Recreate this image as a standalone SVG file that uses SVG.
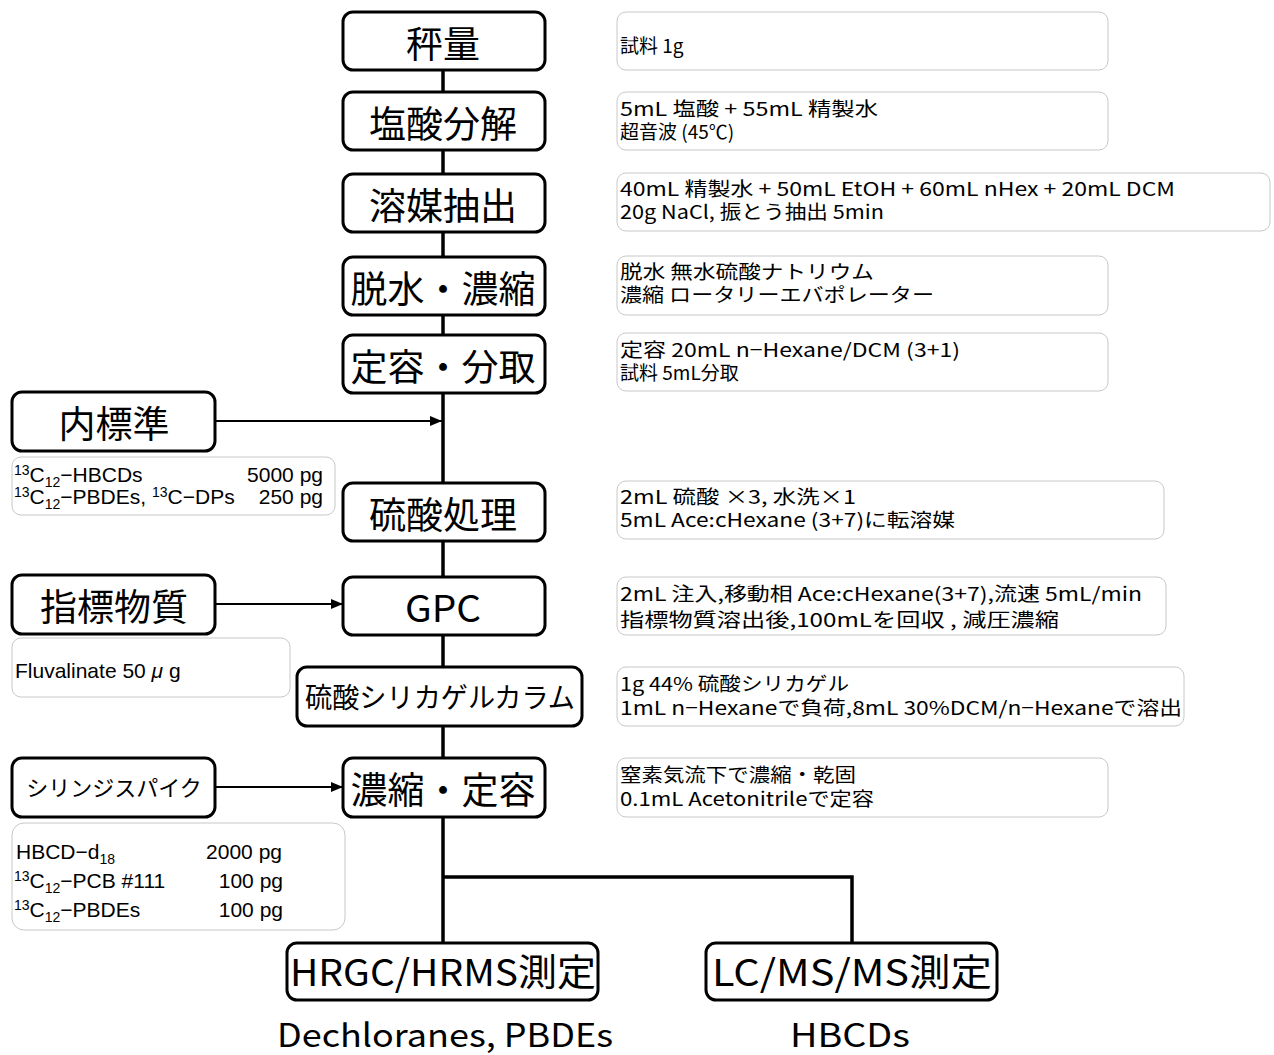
<svg xmlns="http://www.w3.org/2000/svg" width="1274" height="1055" viewBox="0 0 1274 1055">
<style>
.main{fill:#fff;stroke:#000;stroke-width:3}
.note{fill:#fff;stroke:#c8c8c8;stroke-width:1}
.t{font-family:"Noto Sans CJK JP","Liberation Sans",sans-serif;fill:#000}
.big{font-size:37px;text-anchor:middle}
.n{font-size:19px}
.l{font-family:"Liberation Sans","Noto Sans CJK JP",sans-serif;fill:#000;font-size:21px}
.s{font-size:14px}
.line{stroke:#000;stroke-width:3.5;fill:none}
.arr{stroke:#000;stroke-width:2;fill:none;marker-end:url(#ah)}
</style>
<defs>
<marker id="ah" viewBox="0 0 12 10" refX="12" refY="5" markerWidth="12" markerHeight="10" markerUnits="userSpaceOnUse" orient="auto">
<path d="M0,0 L12,5 L0,10 Z" fill="#000"/>
</marker>
</defs>
<rect width="1274" height="1055" fill="#fff"/>
<g id="connectors">
<path class="line" d="M443,70 V943"/>
<path class="line" d="M443,877 H852 V943"/>
<path class="arr" d="M215,421 H442"/>
<path class="arr" d="M215,604 H343"/>
<path class="arr" d="M215,787 H343"/>
</g>
<g id="n1"><rect class="main" x="343" y="12" width="202" height="58" rx="10"/><text class="t big" x="443" y="58">秤量</text></g>
<g id="n2"><rect class="main" x="343" y="92" width="202" height="58" rx="10"/><text class="t big" x="443" y="138">塩酸分解</text></g>
<g id="n3"><rect class="main" x="343" y="174" width="202" height="58" rx="10"/><text class="t big" x="443" y="220">溶媒抽出</text></g>
<g id="n4"><rect class="main" x="343" y="257" width="202" height="58" rx="10"/><text class="t big" x="443" y="303">脱水・濃縮</text></g>
<g id="n5"><rect class="main" x="343" y="335" width="202" height="58" rx="10"/><text class="t big" x="443" y="381">定容・分取</text></g>
<g id="n6"><rect class="main" x="343" y="483" width="202" height="58" rx="10"/><text class="t big" x="443" y="529">硫酸処理</text></g>
<g id="n7"><rect class="main" x="343" y="577" width="202" height="58" rx="10"/><text class="t big" x="443" y="622" textLength="76" lengthAdjust="spacingAndGlyphs">GPC</text></g>
<g id="n8"><rect class="main" x="297" y="667" width="285" height="59" rx="10"/><text class="t" x="440" y="708" font-size="28" text-anchor="middle" textLength="270" lengthAdjust="spacingAndGlyphs">硫酸シリカゲルカラム</text></g>
<g id="n9"><rect class="main" x="343" y="758" width="202" height="59" rx="10"/><text class="t big" x="443" y="804">濃縮・定容</text></g>
<g id="n10"><rect class="main" x="287" y="943" width="311" height="57" rx="10"/><text class="t big" x="443" y="986" textLength="306" lengthAdjust="spacingAndGlyphs">HRGC/HRMS測定</text></g>
<g id="n11"><rect class="main" x="706" y="943" width="291" height="57" rx="10"/><text class="t big" x="852" y="986" textLength="280" lengthAdjust="spacingAndGlyphs">LC/MS/MS測定</text></g>
<g id="n12"><rect class="main" x="12" y="392" width="203" height="59" rx="10"/><text class="t big" x="114" y="438">内標準</text></g>
<g id="n13"><rect class="main" x="12" y="575" width="203" height="59" rx="10"/><text class="t big" x="114" y="621">指標物質</text></g>
<g id="n14"><rect class="main" x="12" y="758" width="203" height="59" rx="10"/><text class="t" x="114" y="796" font-size="22" text-anchor="middle">シリンジスパイク</text></g>
<g id="note1"><rect class="note" x="617" y="12" width="491" height="58" rx="9"/><text class="t n" x="620" y="53">試料 1g</text></g>
<g id="note2"><rect class="note" x="617" y="92" width="491" height="58" rx="9"/><text class="t n" x="620" y="116" textLength="258" lengthAdjust="spacingAndGlyphs">5mL 塩酸 + 55mL 精製水</text><text class="t n" x="620" y="139">超音波 (45℃)</text></g>
<g id="note3"><rect class="note" x="617" y="173" width="653" height="58" rx="9"/><text class="t n" x="620" y="196" textLength="555" lengthAdjust="spacingAndGlyphs">40mL 精製水 + 50mL EtOH + 60mL nHex + 20mL DCM</text><text class="t n" x="620" y="219" textLength="264" lengthAdjust="spacingAndGlyphs">20g NaCl, 振とう抽出 5min</text></g>
<g id="note4"><rect class="note" x="617" y="256" width="491" height="59" rx="9"/><text class="t n" x="620" y="279" textLength="254" lengthAdjust="spacingAndGlyphs">脱水 無水硫酸ナトリウム</text><text class="t n" x="620" y="302" textLength="314" lengthAdjust="spacingAndGlyphs">濃縮 ロータリーエバポレーター</text></g>
<g id="note5"><rect class="note" x="617" y="333" width="491" height="58" rx="9"/><text class="t n" x="620" y="357" textLength="340" lengthAdjust="spacingAndGlyphs">定容 20mL n−Hexane/DCM (3+1)</text><text class="t n" x="620" y="380">試料 5mL分取</text></g>
<g id="note6"><rect class="note" x="617" y="481" width="547" height="58" rx="9"/><text class="t n" x="620" y="504" textLength="236" lengthAdjust="spacingAndGlyphs">2mL 硫酸  ×3, 水洗×1</text><text class="t n" x="620" y="527" textLength="335" lengthAdjust="spacingAndGlyphs">5mL Ace:cHexane (3+7)に転溶媒</text></g>
<g id="note7"><rect class="note" x="617" y="577" width="549" height="58" rx="9"/><text class="t n" x="620" y="601" textLength="522" lengthAdjust="spacingAndGlyphs">2mL 注入,移動相 Ace:cHexane(3+7),流速 5mL/min</text><text class="t n" x="620" y="627" textLength="439" lengthAdjust="spacingAndGlyphs">指標物質溶出後,100mLを回収 , 減圧濃縮</text></g>
<g id="note8"><rect class="note" x="617" y="667" width="567" height="59" rx="9"/><text class="t n" x="620" y="691" textLength="229" lengthAdjust="spacingAndGlyphs">1g 44% 硫酸シリカゲル</text><text class="t n" x="620" y="715" textLength="562" lengthAdjust="spacingAndGlyphs">1mL n−Hexaneで負荷,8mL 30%DCM/n−Hexaneで溶出</text></g>
<g id="note9"><rect class="note" x="617" y="758" width="491" height="59" rx="9"/><text class="t n" x="620" y="782" textLength="236" lengthAdjust="spacingAndGlyphs">窒素気流下で濃縮・乾固</text><text class="t n" x="620" y="806" textLength="254" lengthAdjust="spacingAndGlyphs">0.1mL Acetonitrileで定容</text></g>
<g id="note10"><rect class="note" x="12" y="457" width="323" height="58" rx="9"/>
<text class="l" x="14" y="482"><tspan class="s" dy="-7">13</tspan><tspan dy="7">C</tspan><tspan class="s" dy="5">12</tspan><tspan dy="-5">−HBCDs</tspan></text>
<text class="l" x="323" y="482" text-anchor="end">5000 pg</text>
<text class="l" x="14" y="504"><tspan class="s" dy="-7">13</tspan><tspan dy="7">C</tspan><tspan class="s" dy="5">12</tspan><tspan dy="-5">−PBDEs, </tspan><tspan class="s" dy="-7">13</tspan><tspan dy="7">C−DPs</tspan></text>
<text class="l" x="323" y="504" text-anchor="end">250 pg</text></g>
<g id="note11"><rect class="note" x="12" y="638" width="278" height="59" rx="9"/><text class="l" x="15" y="678">Fluvalinate 50 <tspan font-style="italic">μ</tspan> g</text></g>
<g id="note12"><rect class="note" x="12" y="823" width="333" height="107" rx="12"/>
<text class="l" x="16" y="859">HBCD−d<tspan class="s" dy="5">18</tspan></text>
<text class="l" x="282" y="859" text-anchor="end">2000 pg</text>
<text class="l" x="14" y="888"><tspan class="s" dy="-7">13</tspan><tspan dy="7">C</tspan><tspan class="s" dy="5">12</tspan><tspan dy="-5">−PCB #111</tspan></text>
<text class="l" x="283" y="888" text-anchor="end">100 pg</text>
<text class="l" x="14" y="917"><tspan class="s" dy="-7">13</tspan><tspan dy="7">C</tspan><tspan class="s" dy="5">12</tspan><tspan dy="-5">−PBDEs</tspan></text>
<text class="l" x="283" y="917" text-anchor="end">100 pg</text></g>
<g id="label1"><text class="t" x="445" y="1047" font-size="32" text-anchor="middle" textLength="336" lengthAdjust="spacingAndGlyphs">Dechloranes, PBDEs</text></g>
<g id="label2"><text class="t" x="850" y="1047" font-size="32" text-anchor="middle" textLength="120" lengthAdjust="spacingAndGlyphs">HBCDs</text></g>
</svg>
